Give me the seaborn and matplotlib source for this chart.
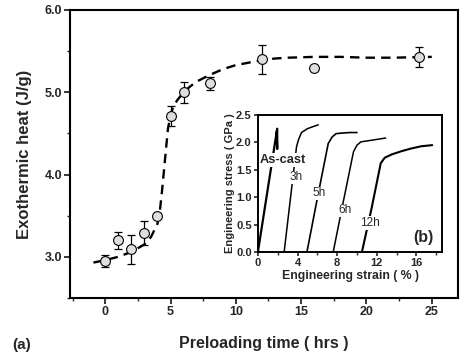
import matplotlib
matplotlib.use("Agg")
import matplotlib.pyplot as plt
import seaborn as sns
import pandas as pd
import numpy as np
from matplotlib.ticker import MultipleLocator

# ---- data: main panel (a) ----
hours = [0, 1, 2, 3, 4, 5, 6, 8, 12, 16, 24]
heat = [2.95, 3.20, 3.09, 3.29, 3.50, 4.71, 5.00, 5.11, 5.40, 5.30, 5.43]
heat_err = [0.07, 0.10, 0.18, 0.15, 0.0, 0.12, 0.13, 0.08, 0.18, 0.0, 0.12]

fit_x = [-0.9, 0, 1, 2, 3, 3.5, 4.0, 4.2, 4.35, 4.5, 4.65, 4.8, 5.0, 5.2, 5.5,
         6.0, 6.5, 7.0, 8.0, 9.0, 10, 11, 12, 13, 14, 16, 18, 20, 22, 25]
fit_y = [2.93, 2.96, 3.00, 3.06, 3.15, 3.24, 3.40, 3.58, 3.80, 4.05, 4.30, 4.55,
         4.72, 4.82, 4.90, 5.00, 5.07, 5.13, 5.21, 5.28, 5.33, 5.36, 5.39, 5.41,
         5.42, 5.43, 5.43, 5.42, 5.42, 5.43]

# ---- data: inset panel (b) ----
ascast_strain = [0, 1.95, 1.95, 1.90]
ascast_stress = [0, 2.25, 1.88, 2.20]
h3_strain = [2.65, 3.3, 3.9, 4.1, 4.4, 5.0, 5.6, 6.1]
h3_stress = [0, 1.0, 1.92, 2.05, 2.18, 2.25, 2.29, 2.32]
h5_strain = [4.95, 6.0, 7.1, 7.5, 7.9, 8.5, 9.3, 10.0]
h5_stress = [0, 0.98, 1.98, 2.10, 2.16, 2.17, 2.18, 2.18]
h6_strain = [7.6, 8.6, 9.65, 10.0, 10.4, 11.5, 12.9]
h6_stress = [0, 0.90, 1.83, 1.95, 2.01, 2.04, 2.08]
h12_strain = [10.5, 11.5, 12.4, 12.8, 13.5, 14.5, 15.5, 16.5, 17.6]
h12_stress = [0, 0.82, 1.62, 1.72, 1.78, 1.84, 1.89, 1.93, 1.95]
curve_labels = ["As-cast", "3h", "5h", "6h", "12h"]

sns.set_theme(style="ticks")
plt.rcParams['font.family'] = ['Liberation Sans', 'DejaVu Sans']
plt.rcParams['font.weight'] = 'bold'
plt.rcParams['axes.labelweight'] = 'bold'

fig = plt.figure(figsize=(4.63, 3.56), dpi=100)
ax = fig.add_axes([0.151, 0.163, 0.838, 0.809])

df_pts = pd.DataFrame({"hours": hours, "heat": heat, "err": heat_err})
df_fit = pd.DataFrame({"x": fit_x, "y": fit_y})

sns.lineplot(data=df_fit, x="x", y="y", ax=ax, color="black", lw=1.7,
             sort=False, estimator=None, zorder=2)
for ln in ax.lines:
    ln.set_linestyle((0, (4.0, 2.6)))

ax.errorbar(df_pts["hours"], df_pts["heat"], yerr=df_pts["err"], fmt="none",
            ecolor="black", elinewidth=0.9, capsize=3, capthick=0.9, zorder=3)
sns.scatterplot(data=df_pts, x="hours", y="heat", ax=ax, s=50, marker="o",
                facecolor="#dedede", edgecolor="black", linewidth=0.8, zorder=4)

ax.set_xlim(-2.7, 27)
ax.set_ylim(2.5, 6.0)
ax.xaxis.set_major_locator(MultipleLocator(5))
ax.xaxis.set_minor_locator(MultipleLocator(2.5))
ax.yaxis.set_major_locator(MultipleLocator(1.0))
ax.yaxis.set_minor_locator(MultipleLocator(0.5))
ax.yaxis.set_major_formatter(matplotlib.ticker.FormatStrFormatter("%.1f"))
ax.tick_params(which="major", direction="out", length=4, width=1.3,
               labelsize=9, pad=1.5)
ax.tick_params(which="minor", direction="out", length=2.5, width=1.0)
ax.tick_params(top=False, right=False)
for lab in ax.get_xticklabels() + ax.get_yticklabels():
    lab.set_fontweight("bold")
for sp in ax.spines.values():
    sp.set_linewidth(1.5)
    sp.set_color("black")
ax.set_xlabel("Preloading time ( hrs )", fontsize=11.5, fontweight="bold", labelpad=13)
ax.set_ylabel("Exothermic heat (J/g)", fontsize=12, fontweight="bold", labelpad=9)
fig.text(0.047, 0.031, "(a)", fontsize=11, fontweight="bold", ha="center", va="center")

# ---- inset ----
ins = fig.add_axes([0.557, 0.292, 0.398, 0.385])
curves = [(ascast_strain, ascast_stress, 1.6), (h3_strain, h3_stress, 1.1),
          (h5_strain, h5_stress, 1.2), (h6_strain, h6_stress, 1.1),
          (h12_strain, h12_stress, 1.5)]
for (sx, sy, lw) in curves:
    d = pd.DataFrame({"strain": sx, "stress": sy})
    sns.lineplot(data=d, x="strain", y="stress", ax=ins, color="black", lw=lw,
                 sort=False, estimator=None)
ins.set_xlim(0, 18.6)
ins.set_ylim(0, 2.5)
ins.xaxis.set_major_locator(MultipleLocator(4))
ins.xaxis.set_minor_locator(MultipleLocator(2))
ins.yaxis.set_major_locator(MultipleLocator(0.5))
ins.yaxis.set_major_formatter(matplotlib.ticker.FormatStrFormatter("%.1f"))
ins.tick_params(which="major", direction="out", length=3, width=1.2,
                labelsize=8, pad=1.5)
ins.tick_params(which="minor", direction="out", length=2, width=1.0)
for lab in ins.get_xticklabels() + ins.get_yticklabels():
    lab.set_fontweight("bold")
for sp in ins.spines.values():
    sp.set_linewidth(1.4)
    sp.set_color("black")
ins.set_xlabel("Engineering strain ( % )", fontsize=8.8, fontweight="bold", labelpad=1)
ins.set_ylabel("Engineering stress ( GPa )", fontsize=8, fontweight="bold", labelpad=1)

label_pos = [(2.56, 1.68), (3.87, 1.36), (6.22, 1.07), (8.82, 0.76), (11.34, 0.53)]
for txt, (px, py) in zip(curve_labels, label_pos):
    w = "bold" if txt == "As-cast" else "normal"
    fs = 9.2 if txt == "As-cast" else 8.5
    ins.text(px, py, txt, fontsize=fs, fontweight=w, ha="center", va="center",
             bbox=dict(boxstyle="square,pad=0.05", fc="white", ec="none"), zorder=5)
ins.text(16.7, 0.27, "(b)", fontsize=11.5, fontweight="bold", ha="center", va="center")

fig.savefig("out.png", dpi=100)
